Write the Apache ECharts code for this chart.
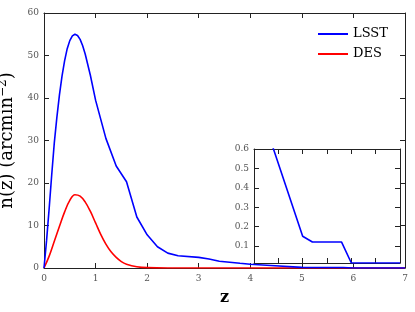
<!DOCTYPE html>
<html><head><meta charset="utf-8">
<script src="https://cdn.jsdelivr.net/npm/echarts@6/dist/echarts.min.js"></script>
<style>html,body{margin:0;padding:0;background:#fff}#c{width:415px;height:312px}</style>
</head><body><div id="c"></div>
<script>
const zLSST = [0,0.05,0.1,0.15,0.2,0.25,0.3,0.35,0.4,0.45,0.5,0.55,0.6,0.65,0.7,0.75,0.8,0.9,1.0,1.2,1.4,1.6,1.8,2.0,2.2,2.4,2.6,3.0,3.2,3.4,3.8,4.0,4.4,5.0,5.2,5.8,6.0,7.0];
const nLSST = [0,6.5,14,22,29.5,35.5,40.8,45.2,48.8,51.6,53.5,54.6,55,54.7,53.8,52.3,50.3,45.3,39.5,30.5,24,20.3,12,7.8,5,3.5,2.9,2.5,2.1,1.6,1.1,0.9,0.6,0.15,0.12,0.12,0.012,0.012];
const zDES = [0,0.1,0.2,0.3,0.4,0.5,0.6,0.7,0.8,0.9,1.0,1.1,1.2,1.3,1.4,1.5,1.6,1.8,2.0,2.5,3.0,7.0];
const nDES = [0,2.8,6.3,9.8,13.2,15.9,17.25,16.9,15.5,13.3,10.6,7.9,5.6,3.8,2.5,1.5,0.9,0.3,0.08,0.01,0,0];
const mainXTicks = [0,1,2,3,4,5,6,7];
const mainYTicks = [0,10,20,30,40,50,60];
const insetYTicks = [0.1,0.2,0.3,0.4,0.5,0.6];

const pair = (xs, ys) => xs.map((x,i)=>[x, ys[i]]);
const serif = 'DejaVu Serif';
const axisCol = '#222';
const lblCol = '#555';

function axisBase(extra){
  return Object.assign({
    axisLine:{show:true,onZero:false,lineStyle:{color:axisCol,width:1}},
    axisTick:{show:true,inside:true,length:5,lineStyle:{color:axisCol}},
    splitLine:{show:false}
  }, extra);
}

const chart = echarts.init(document.getElementById('c'), null, {renderer:'canvas'});
chart.setOption({
  animation:false,
  backgroundColor:'#fff',
  grid:[
    {left:44,right:10,top:13,bottom:44,containLabel:false,outerBoundsMode:'none'},
    {left:254,right:15,top:149,bottom:49,backgroundColor:'#fff',show:true,borderWidth:0,containLabel:false,outerBoundsMode:'none'}
  ],
  legend:{
    orient:'vertical', left:313, top:22, itemWidth:30, itemHeight:2, itemGap:6,
    icon:'rect',
    textStyle:{fontFamily:serif,fontSize:13,color:'#000',lineHeight:14},
    data:['LSST','DES']
  },
  xAxis:[
    axisBase({type:'value',gridIndex:0,min:0,max:7,interval:1,position:'bottom',
      name:'z',nameLocation:'middle',nameGap:22,
      nameTextStyle:{fontFamily:serif,fontSize:16,fontWeight:'bold',color:'#000'},
      axisLabel:{fontFamily:serif,fontSize:9,color:lblCol,margin:6}}),
    axisBase({type:'value',gridIndex:0,min:0,max:7,interval:1,position:'top',axisLabel:{show:false}}),
    axisBase({type:'value',gridIndex:1,min:4,max:7,interval:0.5,position:'bottom',axisLabel:{show:false}}),
    axisBase({type:'value',gridIndex:1,min:4,max:7,interval:0.5,position:'top',axisLabel:{show:false}})
  ],
  yAxis:[
    axisBase({type:'value',gridIndex:0,min:0,max:60,interval:10,position:'left',
      name:'n(z) (arcmin{sup|−2})',nameLocation:'middle',nameGap:21,nameRotate:90,
      nameTextStyle:{fontFamily:serif,fontSize:18,color:'#000',
        rich:{sup:{fontFamily:serif,fontSize:12,color:'#000',verticalAlign:'top',padding:[0,0,9,0]}}},
      axisLabel:{fontFamily:serif,fontSize:9,color:lblCol,margin:5}}),
    axisBase({type:'value',gridIndex:0,min:0,max:60,interval:10,position:'right',axisLabel:{show:false}}),
    axisBase({type:'value',gridIndex:1,min:0.012,max:0.6,position:'left',
      axisTick:{show:true,inside:true,length:5,lineStyle:{color:axisCol},customValues:insetYTicks},
      axisLabel:{fontFamily:serif,fontSize:9,color:lblCol,margin:5,customValues:insetYTicks,formatter:v=>v.toFixed(1)}}),
    axisBase({type:'value',gridIndex:1,min:0.012,max:0.6,position:'right',
      axisTick:{show:true,inside:true,length:5,lineStyle:{color:axisCol},customValues:insetYTicks},
      axisLabel:{show:false}})
  ],
  series:[
    {name:'LSST',type:'line',xAxisIndex:0,yAxisIndex:0,data:pair(zLSST,nLSST),
      showSymbol:false,lineStyle:{color:'#0000ff',width:1.6},itemStyle:{color:'#0000ff'},z:3},
    {name:'DES',type:'line',xAxisIndex:0,yAxisIndex:0,data:pair(zDES,nDES),smooth:0.4,
      showSymbol:false,lineStyle:{color:'#ff0000',width:1.6},itemStyle:{color:'#ff0000'},z:2},
    {name:'LSST',type:'line',xAxisIndex:2,yAxisIndex:2,data:pair(zLSST,nLSST),clip:true,
      showSymbol:false,lineStyle:{color:'#0000ff',width:1.6},itemStyle:{color:'#0000ff'},z:5}
  ]
});
</script></body></html>
